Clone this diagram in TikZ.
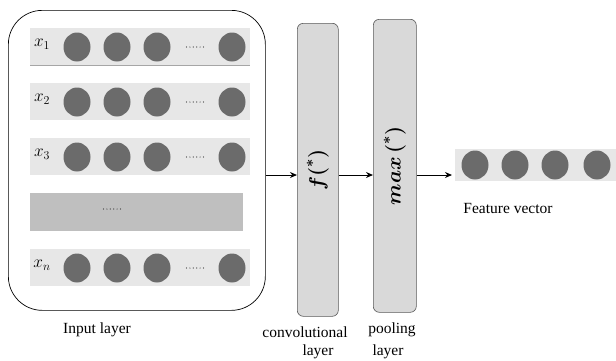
\documentclass[tikz,border=0pt]{standalone}
\usepackage{fontspec}
\setmainfont{Liberation Serif}
\usepackage{amsmath,bm}
\usetikzlibrary{shapes.geometric,arrows.meta}
\definecolor{rowgray}{HTML}{E7E7E7}
\definecolor{gapgray}{HTML}{BFBFBF}
\definecolor{dotgray}{HTML}{6B6B6B}
\definecolor{layergray}{HTML}{D9D9D9}
\definecolor{edgegray}{HTML}{595959}
\begin{document}
\begin{tikzpicture}[x=1pt,y=-1pt,
  txt/.style={font=\fontsize{15.5}{17}\selectfont, inner sep=0pt},
  unit/.style={ellipse, fill=dotgray, minimum width=27pt, minimum height=29pt, inner sep=0pt},
  rowbar/.style={fill=rowgray, draw=none},
  layerbox/.style={draw=edgegray, fill=layergray, rounded corners=6pt, line width=0.6pt},
  arr/.style={-{Stealth[length=7pt,width=6pt]}, line width=1pt},
  xlab/.style={font=\fontsize{17}{18}\selectfont, inner sep=0pt},
  fn/.style={rotate=90, font=\fontsize{20}{20}\selectfont, inner sep=0pt}]
\useasboundingbox (0,0) rectangle (616,360);
\fill[white] (0,0) rectangle (616,360);

% six small dots standing for the omitted units
\newcommand{\ellipsisdots}[2]{%
  \foreach \k in {0,...,5}
    \fill[black!80] (#1-8.5+3.4*\k,#2) circle (0.6pt);}

% input layer frame
\node[draw, line width=0.7pt, rounded corners=34pt, minimum width=257pt, minimum height=300pt, inner sep=0pt, anchor=north west] (input) at (8,10) {};

% input rows
\foreach \y/\lab in {28/x_1, 83/x_2, 138/x_3, 249/x_n}{
  \fill[rowgray] (30,\y) rectangle (250,\y+37);
  \node[xlab] at (42,\y+16) {$\lab$};
  \foreach \cx in {77,117,157,232}
    \node[unit] at (\cx,\y+19) {};
  \ellipsisdots{195}{\y+19}
}
\draw[gray!70, line width=0.8pt] (30,65) -- (250,65);
\fill[gapgray] (30,193) rectangle (243,231);
\ellipsisdots{112}{209}

% convolutional and pooling layers
\node[layerbox, minimum width=41pt, minimum height=293pt, inner sep=0pt, anchor=north west] (conv) at (297,23) {};
\node[fn] at (conv.center) {$\bm{f}\bm{(}^{\bm{*}}\bm{)}$};
\node[layerbox, minimum width=43pt, minimum height=293pt, inner sep=0pt, anchor=north west] (pool) at (373,19) {};
\node[fn] at (pool.center) {$\bm{max}\,\bm{(}^{\bm{*}}\bm{)}$};

% feature vector
\node[rowbar, minimum width=170pt, minimum height=32pt, inner sep=0pt, anchor=north west] (feat) at (455,149) {};
\foreach \cx in {475,515,555,597}
  \node[unit] at (\cx,165) {};

% connectors
\coordinate (flow) at (0,175);
\draw[arr] (input.east |- flow) -- (conv.west |- flow);
\draw[arr] (conv.east |- flow) -- (pool.west |- flow);
\draw[arr] (pool.east |- flow) -- ([xshift=-3pt]feat.west |- flow);

% captions
\node[txt] at (97,330) {Input layer};
\node[txt] at (305,332) {convolutional};
\node[txt] at (318,352) {layer};
\node[txt] at (392,330) {pooling};
\node[txt] at (388,352) {layer};
\node[txt] at (508,208) {Feature vector};
\end{tikzpicture}
\end{document}
